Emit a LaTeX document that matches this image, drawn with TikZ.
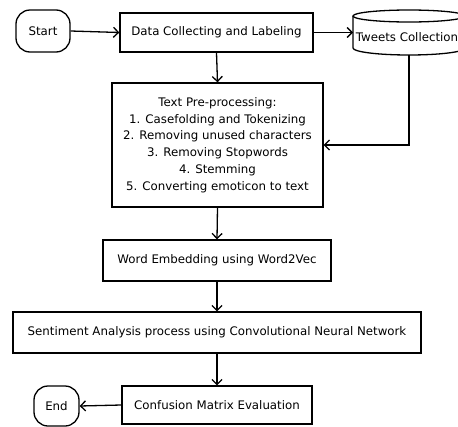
\documentclass[tikz,border=0pt]{standalone}
\usepackage{fontspec}
\setmainfont{DejaVu Sans}
\usetikzlibrary{arrows.meta}
\begin{document}
\begin{tikzpicture}[x=1pt,y=-1pt,
  every node/.style={font=\fontsize{11.8}{16.7}\selectfont, inner sep=0pt, align=center},
  box/.style={draw, line width=1.3pt, rectangle},
  term/.style={draw, line width=1.3pt, rounded corners=14pt},
  conn/.style={line width=1.3pt, -{Straight Barb[length=5pt,width=10pt,line width=1.3pt]}}
]
\useasboundingbox (0,0) rectangle (458,426);
\clip (0,0) rectangle (458,426);
\node[term, minimum width=54pt, minimum height=42pt] (start) at (43,31) {Start};
\node[box, minimum width=193pt, minimum height=39pt] (data) at (216.5,32.5) {Data Collecting and Labeling};
% cylinder
\draw[line width=1.3pt] (409,16) ellipse [x radius=56, y radius=6];
\draw[line width=1.3pt] (353,16) -- (353,48) arc (180:0:56 and 7) -- (465,16);
\node (tweets) at (407,37) {Tweets Collection};
\coordinate (tw) at (353,32.5);
\coordinate (twb) at (409,55);
\node[box, minimum width=211pt, minimum height=124pt] (pre) at (217.5,145) {Text Pre-processing:\\1. Casefolding and Tokenizing\\2. Removing unused characters\\3. Removing Stopwords\\4. Stemming\\5. Converting emoticon to text};
\node[box, minimum width=228pt, minimum height=41pt] (emb) at (217,260.5) {Word Embedding using Word2Vec};
\node[box, minimum width=408pt, minimum height=41pt] (sent) at (217,332.5) {Sentiment Analysis process using Convolutional Neural Network};
\node[box, minimum width=190pt, minimum height=38pt] (conf) at (217,405) {Confusion Matrix Evaluation};
\node[term, minimum width=45pt, minimum height=40pt] (end) at (56.5,406) {End};
\draw[conn] (start.east) -- (data.west);
\draw[conn] (data.east) -- (tw);
\draw[conn] (data.south) -- (pre.north);
\draw[conn] (twb) |- (pre.east);
\draw[conn] (pre.south) -- (emb.north);
\draw[conn] (emb.south) -- (sent.north);
\draw[conn] (sent.south) -- (conf.north);
\draw[conn] (conf.west) -- (end.east);
\end{tikzpicture}
\end{document}
